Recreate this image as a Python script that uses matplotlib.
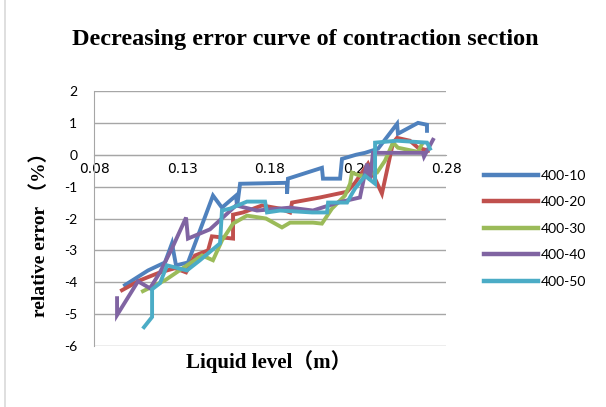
import matplotlib.pyplot as plt
from matplotlib.lines import Line2D

# series: liquid level (m) and relative error (%)
x_400_10 = [0.0976, 0.1107, 0.1203, 0.1243, 0.1266, 0.1334, 0.1476, 0.1527, 0.1573, 0.1607,
            0.1613, 0.1630, 0.1897, 0.1897, 0.1902, 0.2095, 0.2101, 0.2198, 0.2209, 0.2289,
            0.2340, 0.2414, 0.2522, 0.2527, 0.2641, 0.2692, 0.2692]
y_400_10 = [-4.09, -3.63, -3.38, -2.78, -3.47, -3.38, -1.28, -1.66, -1.44, -1.28,
            -1.63, -0.91, -0.88, -1.22, -0.75, -0.41, -0.75, -0.75, -0.13, 0.0,
            0.06, 0.19, 0.97, 0.66, 1.0, 0.94, 0.75]

x_400_20 = [0.0959, 0.1061, 0.1175, 0.1260, 0.1323, 0.1374, 0.1448, 0.1470, 0.1590, 0.1590,
            0.1647, 0.1755, 0.1857, 0.1914, 0.1925, 0.2084, 0.2238, 0.2283, 0.2357, 0.2436,
            0.2499, 0.2522, 0.2595, 0.2641, 0.2698]
y_400_20 = [-4.25, -3.94, -3.69, -3.56, -3.69, -3.16, -3.0, -2.56, -2.63, -1.88,
            -1.81, -1.59, -1.69, -1.81, -1.50, -1.34, -1.16, -0.88, -0.28, -1.22,
            0.38, 0.53, 0.44, 0.22, 0.13]

x_400_30 = [0.1078, 0.1203, 0.1328, 0.1414, 0.1476, 0.1527, 0.1590, 0.1669, 0.1777, 0.1868,
            0.1914, 0.2044, 0.2095, 0.2152, 0.2226, 0.2255, 0.2266, 0.2311, 0.2408, 0.2453,
            0.2499, 0.2527, 0.2641, 0.2664]
y_400_30 = [-4.28, -3.94, -3.47, -3.16, -3.31, -2.69, -2.16, -1.91, -2.0, -2.28,
            -2.13, -2.13, -2.16, -1.69, -1.28, -0.91, -0.56, -0.66, -0.56, -0.19,
            0.38, 0.22, 0.09, 0.34]

x_400_40 = [0.0931, 0.0931, 0.1050, 0.1118, 0.1175, 0.1243, 0.1323, 0.1334, 0.1459, 0.1607,
            0.1726, 0.1914, 0.2044, 0.2186, 0.2311, 0.2351, 0.2368, 0.2385, 0.2669, 0.2675,
            0.2726]
y_400_40 = [-4.50, -5.03, -3.97, -4.19, -3.69, -2.94, -1.97, -2.63, -2.34, -1.59,
            -1.75, -1.66, -1.75, -1.50, -1.34, -0.28, -0.81, 0.06, 0.06, -0.06,
            0.47]

x_400_50 = [0.1084, 0.1130, 0.1130, 0.1175, 0.1215, 0.1328, 0.1402, 0.1516, 0.1527, 0.1573,
            0.1669, 0.1772, 0.1783, 0.1857, 0.2039, 0.2124, 0.2130, 0.2238, 0.2266, 0.2283,
            0.2340, 0.2397, 0.2397, 0.2522, 0.2692, 0.2709]
y_400_50 = [-5.41, -5.09, -4.22, -4.03, -3.47, -3.63, -3.31, -2.78, -1.75, -1.69,
            -1.47, -1.47, -1.81, -1.75, -1.81, -1.81, -1.50, -1.50, -1.22, -1.06,
            -0.66, -0.91, 0.38, 0.44, 0.38, 0.19]

labels = ["400-10", "400-20", "400-30", "400-40", "400-50"]
colors = ["#4F81BD", "#C0504D", "#9BBB59", "#8064A2", "#4BACC6"]
xs = [x_400_10, x_400_20, x_400_30, x_400_40, x_400_50]
ys = [y_400_10, y_400_20, y_400_30, y_400_40, y_400_50]

x_ticks = [0.08, 0.13, 0.18, 0.23, 0.28]
y_ticks = [-6, -5, -4, -3, -2, -1, 0, 1, 2]

serif = ["Liberation Serif", "Noto Sans CJK SC"]
tick_font = "Lato"

fig = plt.figure(figsize=(6.06, 4.07), dpi=100)
ax = fig.add_axes([94 / 606, 1 - 346 / 407, 352 / 606, 255 / 407])

for x, y, c, lab in zip(xs, ys, colors, labels):
    ax.plot(x, y, color=c, linewidth=2.8, label=lab, solid_joinstyle="miter", zorder=3)

ax.set_xlim(0.08, 0.28)
ax.set_ylim(-6, 2)
ax.set_xticks(x_ticks)
ax.set_xticklabels(["0.08", "0.13", "0.18", "0.23", "0.28"], fontsize=10, family=tick_font)
ax.set_yticks(y_ticks)
ax.set_yticklabels([str(v) for v in y_ticks], fontsize=10, family=tick_font)
ax.yaxis.grid(True, color="#A6A6A6", linewidth=1.0)
ax.set_axisbelow(True)

for s in ["top", "right"]:
    ax.spines[s].set_visible(False)
ax.spines["left"].set_color("#A6A6A6")
ax.spines["bottom"].set_position(("data", 0))
ax.spines["bottom"].set_color("#A6A6A6")
ax.tick_params(axis="both", length=0)
ax.tick_params(axis="x", pad=5)
ax.tick_params(axis="y", pad=12)

fig.text(305 / 606, 1 - 40 / 407, "Decreasing error curve of contraction section",
         ha="center", va="center", fontsize=17.5, fontweight="bold", family=serif)
fig.text(269 / 606, 1 - 362 / 407, "Liquid level（m）", ha="center", va="center",
         fontsize=15, fontweight="bold", family=serif)
fig.text(40 / 606, 1 - 230 / 407, "relative error （%）", ha="center", va="center",
         rotation=90, fontsize=14, fontweight="bold", family=serif)

handles = [Line2D([0], [0], color=c, linewidth=3.2) for c in colors]
fig.legend(handles, labels, loc="upper left", bbox_to_anchor=(471 / 606, 1 - 157 / 407),
           frameon=False, prop={"family": tick_font, "size": 10},
           handlelength=3.9, handletextpad=0.2, labelspacing=1.05)

fig.add_artist(Line2D([5 / 606, 5 / 606], [0, 1], color="#D9D9D9", linewidth=1.2))

fig.savefig("out.png", dpi=100)
